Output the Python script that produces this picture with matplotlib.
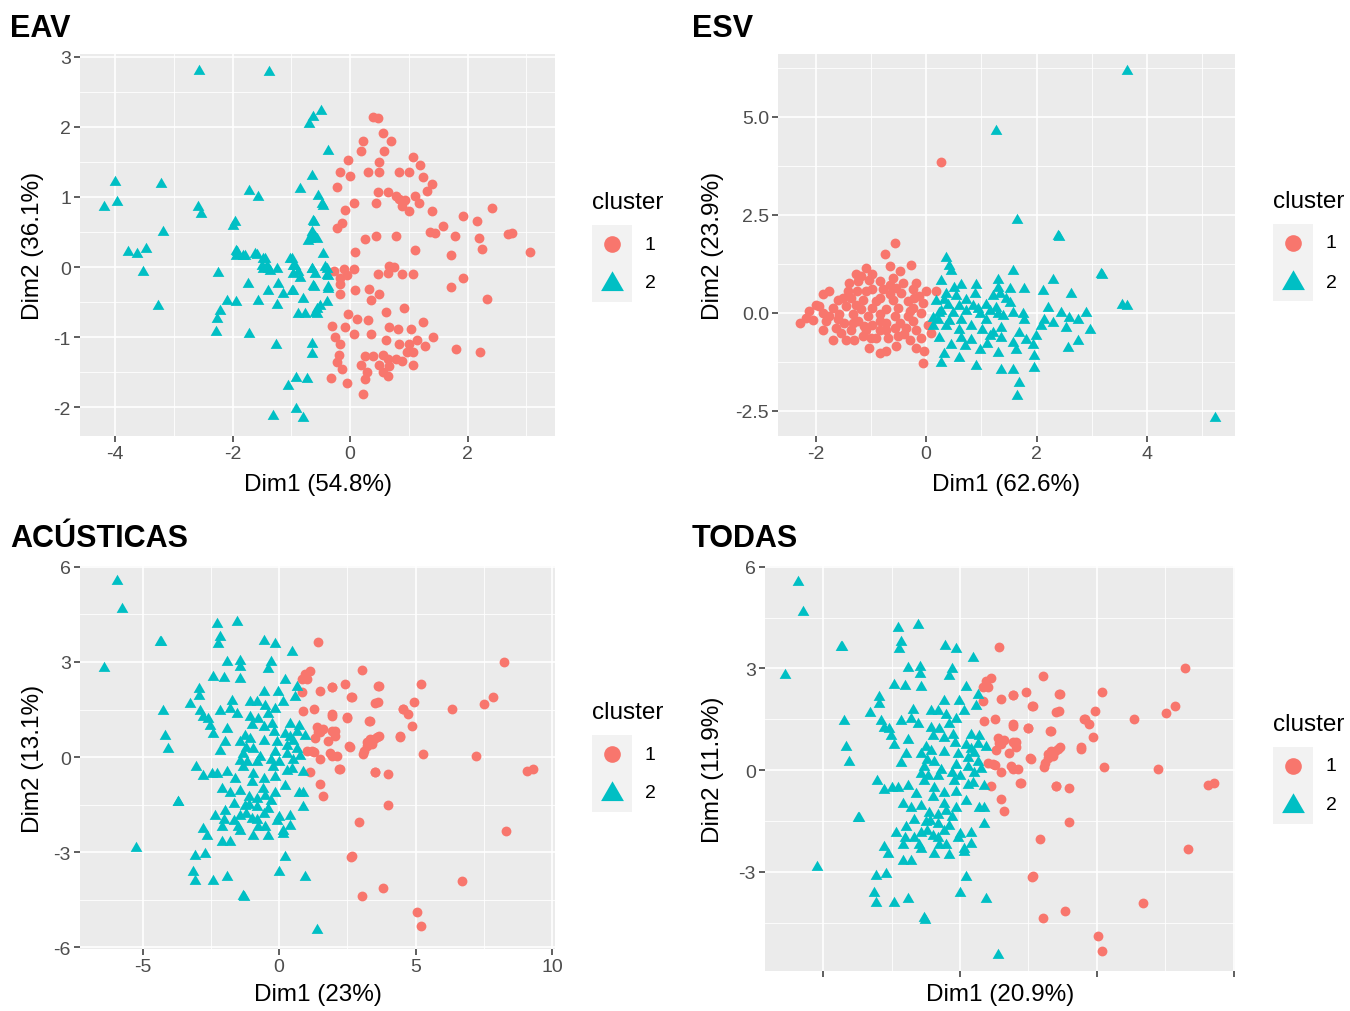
import numpy as np
import matplotlib
matplotlib.use("Agg")
import matplotlib.pyplot as plt
from matplotlib.lines import Line2D
from matplotlib.patches import Rectangle
from matplotlib.ticker import MultipleLocator, FormatStrFormatter, NullFormatter

plt.rcParams["font.family"] = ["Liberation Sans", "DejaVu Sans"]
plt.rcParams["axes.unicode_minus"] = False

RED = "#F8766D"
TEAL = "#00BFC4"
# equilateral triangle like ggplot's shape 17
TRI = [(-1, -0.577), (1, -0.577), (0, 1.155)]

# ---------------- EAV ----------------
eav_cl1 = np.array([
    (0.39, 2.14), (0.47, 2.13), (0.56, 1.91), (0.69, 1.80), (0.22, 1.80), (0.19, 1.65),
    (0.58, 1.65), (-0.03, 1.53), (0.50, 1.50), (1.08, 1.57), (1.19, 1.45), (-0.17, 1.35),
    (0.00, 1.30), (0.31, 1.35), (0.50, 1.35), (0.83, 1.35), (1.00, 1.35), (1.25, 1.28),
    (-0.22, 1.14), (0.47, 1.07), (0.64, 1.07), (0.78, 1.02), (0.83, 0.97), (0.94, 0.95),
    (1.11, 1.02), (1.31, 1.09), (1.39, 1.18), (0.44, 0.92), (0.89, 0.87), (1.00, 0.80),
    (1.17, 0.92), (-0.08, 0.82), (0.06, 0.92), (1.39, 0.80), (-0.22, 0.56), (-0.14, 0.63),
    (1.36, 0.50), (1.44, 0.48), (1.58, 0.59), (1.92, 0.73), (2.17, 0.66), (2.42, 0.85),
    (2.69, 0.47), (2.75, 0.49), (3.06, 0.22), (1.78, 0.44), (2.19, 0.42), (2.25, 0.26),
    (0.25, 0.40), (0.44, 0.44), (0.78, 0.44), (0.08, 0.22), (1.11, 0.24), (1.72, 0.17),
    (0.67, 0.02), (0.75, 0.00), (0.64, -0.08), (0.89, -0.10), (1.08, -0.10), (0.47, -0.10),
    (-0.28, -0.05), (-0.11, -0.03), (0.06, -0.03), (-0.17, -0.15), (-0.06, -0.12),
    (1.92, -0.16), (1.72, -0.28), (-0.17, -0.24), (0.08, -0.33), (0.33, -0.31), (0.50, -0.38),
    (0.36, -0.47), (2.33, -0.45), (-0.17, -0.38), (-0.03, -0.67), (0.61, -0.64), (0.92, -0.59),
    (0.11, -0.74), (0.31, -0.76), (1.25, -0.78), (-0.31, -0.84), (-0.08, -0.86), (0.06, -0.95),
    (0.36, -0.95), (0.67, -0.86), (0.81, -0.88), (1.03, -0.88), (-0.25, -1.00), (-0.17, -1.10),
    (0.61, -1.04), (0.83, -1.10), (1.00, -1.10), (1.14, -1.04), (1.42, -1.00), (1.28, -1.12),
    (1.81, -1.17), (2.22, -1.21), (-0.19, -1.25), (0.25, -1.27), (0.39, -1.27), (0.56, -1.25),
    (0.64, -1.31), (0.78, -1.31), (0.97, -1.21), (1.08, -1.21), (-0.22, -1.36), (0.19, -1.39),
    (0.50, -1.39), (0.67, -1.41), (0.89, -1.34), (1.08, -1.39), (-0.14, -1.46), (0.28, -1.50),
    (0.56, -1.50), (0.64, -1.55), (-0.33, -1.58), (-0.06, -1.65), (0.25, -1.60), (0.22, -1.81),
])
eav_cl2 = np.array([
    (-2.57, 2.80), (-1.38, 2.79), (-0.49, 2.23), (-0.63, 2.14), (-0.70, 2.04), (-0.37, 1.66),
    (-0.65, 1.30), (-0.85, 1.11), (-0.54, 1.01), (-0.48, 0.90), (-4.00, 1.21), (-4.19, 0.86),
    (-3.97, 0.93), (-3.22, 1.19), (-3.18, 0.50), (-3.78, 0.21), (-3.63, 0.19), (-3.47, 0.26),
    (-3.52, -0.07), (-3.27, -0.56), (-2.59, 0.86), (-2.54, 0.76), (-1.73, 1.09), (-1.57, 1.00),
    (-1.96, 0.64), (-1.99, 0.59), (-0.63, 0.66), (-0.65, 0.50), (-0.68, 0.40), (-0.60, 0.43),
    (-1.94, 0.23), (-1.94, 0.16), (-1.79, 0.16), (-2.25, -0.09), (-1.58, 0.17), (-1.48, 0.11),
    (-1.41, 0.01), (-1.36, -0.06), (-1.48, -0.03), (-1.24, -0.03), (-1.02, 0.11), (-0.94, 0.01),
    (-0.97, -0.10), (-0.85, -0.15), (-0.65, -0.03), (-0.60, -0.10), (-0.46, 0.19), (-0.43, 0.00),
    (-0.37, -0.13), (-1.74, -0.24), (-1.40, -0.34), (-1.23, -0.24), (-1.14, -0.39), (-0.97, -0.34),
    (-0.63, -0.27), (-0.37, -0.29), (-2.10, -0.48), (-1.94, -0.50), (-1.56, -0.48), (-1.25, -0.54),
    (-0.80, -0.46), (-0.40, -0.50), (-2.21, -0.63), (-2.27, -0.74), (-0.89, -0.67), (-0.77, -0.67),
    (-0.60, -0.65), (-0.51, -0.55), (-2.28, -0.93), (-1.73, -0.96), (-1.26, -1.11), (-0.65, -1.10),
    (-0.65, -1.24), (-1.05, -1.70), (-0.92, -1.58), (-0.74, -1.60), (-1.32, -2.12), (-0.92, -2.02),
    (-0.81, -2.15), (-0.46, 0.87), (-0.61, 0.64), (-0.65, 0.47), (-0.56, 0.40), (-0.71, 0.37),
    (-0.99, 0.11), (-0.97, 0.01), (-0.88, -0.07), (-0.65, -0.03), (-0.40, -0.03), (-0.40, -0.12),
    (-0.61, -0.29), (-0.37, -0.31), (-0.99, -0.34), (-0.56, -0.60), (-0.56, -0.67), (-1.45, 0.11),
    (-1.50, 0.01), (-1.40, -0.03), (-1.82, 0.16), (-1.92, 0.21), (-1.62, 0.19),
])

# ---------------- ESV ----------------
esv_cl1 = np.array([
    (-0.57, 1.79), (-0.75, 1.49), (-0.66, 1.19), (-0.27, 1.23), (-1.09, 1.15), (-0.48, 1.06),
    (-1.27, 0.98), (-1.24, 0.81), (-1.03, 0.85), (-0.84, 0.81), (-0.66, 0.72), (-0.18, 0.77),
    (0.00, 0.55), (0.18, 0.55), (-1.75, 0.55), (-1.87, 0.47), (-1.42, 0.55), (-0.97, 0.60),
    (-0.45, 0.51), (-0.24, 0.60), (-0.12, 0.43), (-1.60, 0.34), (-1.36, 0.38), (-1.15, 0.34),
    (-0.84, 0.38), (-0.60, 0.34), (-0.33, 0.30), (-1.93, 0.17), (-1.69, 0.13), (-1.45, 0.17),
    (-1.18, 0.09), (-0.97, 0.13), (-0.72, 0.09), (-0.51, 0.13), (-0.24, 0.13), (-2.11, 0.04),
    (-1.87, 0.00), (-1.57, -0.04), (-1.33, -0.04), (-1.06, -0.09), (-0.84, -0.04), (-0.57, -0.09),
    (-0.33, -0.09), (-0.09, 0.00), (-2.29, -0.26), (-2.05, -0.17), (-1.81, -0.21), (-1.48, -0.26),
    (-1.24, -0.21), (-0.97, -0.30), (-0.72, -0.26), (-0.24, -0.21), (0.03, -0.30), (-1.87, -0.43),
    (-1.63, -0.38), (-1.36, -0.43), (-1.09, -0.43), (-0.84, -0.43), (-0.57, -0.38), (-0.36, -0.38),
    (0.09, -0.51), (-1.69, -0.68), (-1.45, -0.68), (-1.30, -0.68), (-0.90, -0.64), (-0.69, -0.64),
    (-0.51, -0.60), (-0.09, -0.64), (-1.03, -0.89), (-0.84, -1.02), (-0.72, -0.98), (-0.54, -0.85),
    (-0.18, -0.89), (-0.03, -0.98), (-0.06, -1.28), (0.27, 3.85), (-1.99, 0.21), (-1.75, -0.09),
    (-1.51, 0.38), (-1.27, 0.21), (-1.09, 0.55), (-0.90, 0.30), (-0.78, 0.60), (-0.66, 0.47),
    (-0.54, 0.64), (-0.42, 0.77), (-0.84, -0.21), (-1.12, -0.34), (-1.33, -0.26), (-0.48, -0.26),
    (-0.18, -0.43), (-0.30, -0.68), (-1.15, -0.60), (-1.54, -0.51), (-2.17, -0.13), (-0.21, 0.38),
    (-0.06, 0.26), (-0.97, 0.98), (-1.18, 0.94), (-1.40, 0.75), (-0.60, 0.90), (-0.30, 0.05),
    (-1.00, -0.65), (-0.40, -0.55), (-1.25, 0.55), (-0.72, -0.45), (-1.60, -0.15),
])
esv_cl2 = np.array([
    (2.38, 1.96), (0.36, 1.40), (0.42, 1.19), (0.45, 1.06), (1.57, 1.06), (3.17, 0.98),
    (2.29, 0.85), (0.27, 0.81), (0.63, 0.72), (0.51, 0.64), (0.91, 0.72), (1.30, 0.64),
    (1.51, 0.60), (1.78, 0.61), (2.11, 0.55), (2.62, 0.47), (0.36, 0.47), (0.88, 0.47),
    (1.21, 0.43), (1.33, 0.47), (1.51, 0.26), (0.18, 0.30), (0.39, 0.21), (0.60, 0.17),
    (0.84, 0.17), (1.09, 0.21), (1.27, 0.13), (2.20, 0.13), (0.27, 0.04), (0.48, 0.00),
    (0.72, 0.04), (0.97, -0.04), (1.30, -0.04), (1.75, -0.04), (2.44, 0.00), (2.90, 0.00),
    (0.21, -0.17), (0.42, -0.21), (0.63, -0.17), (1.09, -0.17), (1.78, -0.17), (2.14, -0.17),
    (2.59, -0.13), (2.75, -0.17), (0.36, -0.34), (0.81, -0.34), (1.36, -0.38), (2.08, -0.34),
    (2.53, -0.38), (2.96, -0.43), (0.24, -0.64), (0.63, -0.64), (0.81, -0.68), (1.15, -0.60),
    (1.36, -0.64), (1.81, -0.68), (1.99, -0.60), (2.75, -0.72), (0.97, -0.94), (1.30, -1.02),
    (1.63, -0.94), (2.56, -0.89), (0.33, -1.06), (0.60, -1.15), (1.96, -1.11), (0.27, -1.28),
    (0.91, -1.36), (1.36, -1.45), (1.57, -1.45), (1.96, -1.40), (1.69, -1.79), (1.64, -2.13),
    (0.45, -0.81), (0.12, -0.34), (3.64, 6.17), (1.27, 4.64), (1.65, 2.37), (2.41, 1.94),
    (3.19, 0.97), (3.55, 0.20), (3.64, 0.18), (5.23, -2.68), (0.33, 0.34), (0.54, 0.43),
    (0.72, 0.34), (0.94, 0.09), (1.15, 0.04), (1.39, -0.09), (1.57, 0.00), (0.60, -0.43),
    (1.02, -0.43), (1.21, -0.51), (1.57, -0.77), (1.69, -0.51), (1.93, -0.81), (2.29, -0.26),
    (0.24, 0.00), (0.12, -0.13), (1.30, 0.85), (1.45, 0.35), (0.70, -0.85), (1.10, -0.80),
])

# ---------------- ACÚSTICAS ----------------
acu_cl1 = np.array([
    (1.44, 3.62), (0.95, 2.62), (1.14, 2.73), (0.83, 2.46), (1.01, 2.46), (0.83, 2.04),
    (1.50, 2.09), (1.93, 2.20), (2.42, 2.31), (3.03, 2.76), (2.66, 1.88), (3.64, 2.23),
    (3.52, 1.71), (0.89, 1.46), (1.26, 1.52), (1.93, 1.36), (2.48, 1.25), (3.33, 1.15),
    (4.55, 1.52), (1.38, 0.94), (1.50, 0.78), (1.93, 0.83), (2.05, 0.67), (2.54, 0.36),
    (3.21, 0.46), (3.09, 0.20), (3.46, 0.57), (3.64, 0.67), (4.43, 0.67), (1.01, 0.20),
    (1.26, 0.15), (1.50, -0.06), (1.87, 0.13), (2.11, 0.04), (1.14, -0.48), (2.23, -0.38),
    (3.52, -0.48), (3.97, -0.54), (1.50, -0.85), (1.62, -1.22), (4.00, -1.52), (2.94, -2.04),
    (2.66, -3.14), (3.82, -4.15), (3.05, -4.38), (8.24, 3.00), (5.20, 2.30), (3.63, 2.24),
    (7.84, 1.89), (7.51, 1.67), (6.34, 1.52), (4.95, 1.74), (4.54, 1.52), (4.73, 1.36),
    (4.87, 0.98), (4.43, 0.63), (5.27, 0.09), (7.22, 0.03), (9.08, -0.44), (9.30, -0.38),
    (3.52, -0.47), (8.32, -2.34), (6.70, -3.92), (5.06, -4.89), (5.20, -5.34), (1.94, 2.21),
    (3.63, 1.74), (2.64, 1.89), (1.94, 1.29), (2.49, 1.23), (3.30, 1.14), (2.05, 0.82),
    (2.60, 0.32), (3.22, 0.35), (3.33, 0.57), (3.59, 0.63), (3.08, 0.09), (2.20, -0.38),
    (1.94, 0.03), (1.43, 0.79), (1.21, 0.19), (2.64, -3.16), (1.60, 0.90), (1.80, 0.50),
    (1.30, 0.60), (3.40, 0.40),
])
acu_cl2 = np.array([
    (-2.28, 4.20), (-1.53, 4.27), (-4.36, 3.62), (-2.16, 3.78), (-2.22, 3.57), (-0.55, 3.67),
    (-0.15, 3.57), (0.46, 3.31), (-1.89, 3.01), (-1.45, 3.04), (-1.45, 2.83), (-0.31, 2.99),
    (-0.39, 2.78), (-2.41, 2.52), (-2.01, 2.48), (-1.43, 2.46), (0.22, 2.44), (0.65, 2.20),
    (-2.95, 2.15), (-2.95, 1.94), (-0.57, 2.04), (-0.05, 2.04), (0.59, 1.88), (-3.28, 1.67),
    (-1.73, 1.78), (-1.06, 1.73), (-0.82, 1.73), (-0.51, 1.62), (-0.15, 1.52), (0.16, 1.73),
    (-4.26, 1.46), (-2.89, 1.46), (-2.16, 1.46), (-1.79, 1.52), (-1.53, 1.36), (-0.39, 1.36),
    (-2.77, 1.25), (-2.59, 1.20), (-1.06, 1.25), (-0.76, 1.20), (-2.53, 0.99), (-2.41, 0.73),
    (-0.27, 1.04), (-0.57, 0.94), (0.40, 1.04), (0.71, 0.99), (-4.18, 0.67), (-4.05, 0.25),
    (-1.25, 0.67), (-1.98, 0.46), (-2.16, 0.20), (-0.57, 0.52), (-1.43, 0.46), (-0.94, 0.25),
    (0.22, 0.73), (0.40, 0.62), (0.65, 0.78), (0.95, 0.67), (-0.15, 0.15), (0.28, 0.36),
    (0.65, 0.25), (0.77, 0.04), (-1.31, 0.09), (-1.18, -0.17), (-0.82, -0.17), (-0.02, -0.17),
    (-1.43, -0.12), (-3.04, -0.33), (-2.77, -0.59), (-2.47, -0.54), (-2.28, -0.54), (-1.92, -0.48),
    (-1.31, -0.33), (-0.94, -0.54), (-0.57, -0.69), (-0.15, -0.64), (0.28, -0.43), (0.46, -0.38),
    (0.89, -0.48), (-2.10, -1.01), (-1.79, -1.12), (-1.43, -1.06), (-1.12, -1.27), (-0.82, -1.33),
    (-0.51, -1.22), (-0.15, -1.12), (0.22, -0.91), (0.71, -1.12), (0.89, -1.12), (-3.72, -1.43),
    (-1.67, -1.48), (-1.25, -1.54), (-0.82, -1.59), (-0.39, -1.64), (0.89, -1.59), (-2.34, -1.85),
    (-1.98, -1.69), (-1.43, -1.85), (-1.00, -1.96), (-0.57, -1.80), (-0.09, -2.01), (0.40, -1.85),
    (-2.77, -2.27), (-2.10, -2.22), (-1.67, -2.01), (-0.76, -2.22), (-0.51, -2.22), (0.16, -2.33),
    (0.40, -2.17), (-2.65, -2.48), (-2.10, -2.69), (-1.79, -2.69), (-1.43, -2.33), (-0.94, -2.48),
    (0.16, -2.43), (-3.08, -3.12), (-2.71, -3.06), (0.20, -3.17), (-3.14, -3.64), (-3.08, -3.91),
    (-2.41, -3.91), (-1.92, -3.80), (-0.02, -3.64), (0.95, -3.80), (-1.31, -4.38), (-0.21, -0.33),
    (-0.09, 0.46), (-1.06, 0.57), (-5.93, 5.56), (-5.75, 4.67), (-6.41, 2.81), (-4.32, 3.63),
    (-5.24, -2.87), (-3.70, -1.42), (1.39, -5.46), (-1.28, -4.42), (-1.20, 0.30), (-0.70, 0.00),
    (-0.30, -0.10), (0.50, 0.50), (0.30, 0.10), (-1.00, -0.80), (-0.60, -1.00), (-1.60, -0.70),
    (-1.20, -1.80), (-0.80, -2.00), (-1.50, -2.20), (-0.30, -1.40), (0.00, -1.90), (-2.00, -2.00),
    (-1.90, 0.90), (-1.00, 1.00), (-0.20, 0.80), (0.50, -0.10), (-0.40, -2.50), (-1.10, -1.50),
])

# ---------------- TODAS ----------------
# same point cloud as the acoustic set
tod_cl1 = acu_cl1.copy()
tod_cl2 = acu_cl2.copy()

W, H = 1350, 1012
fig = plt.figure(figsize=(W / 100, H / 100), dpi=100)


def fx(x):
    return x / W


def fy(y):
    return 1 - y / H


def panel(box, cl1, cl2, title, xlab, ylab, xlim, ylim, xmaj, ymaj, yfmt="%g",
          xticklabels=True, title_xy=(10, 37), xlab_y=485, ylab_x=33, leg_xy=(592, 203)):
    l, t, r, b = box
    ax = fig.add_axes([fx(l), fy(b), (r - l) / W, (b - t) / H])
    ax.set_facecolor("#EBEBEB")
    ax.scatter(cl1[:, 0], cl1[:, 1], s=50, marker="o", color=RED, linewidths=0, zorder=3)
    ax.scatter(cl2[:, 0], cl2[:, 1], s=95, marker=TRI, color=TEAL, linewidths=0, zorder=3)
    ax.set_xlim(*xlim)
    ax.set_ylim(*ylim)
    ax.xaxis.set_major_locator(MultipleLocator(xmaj))
    ax.xaxis.set_minor_locator(MultipleLocator(xmaj / 2))
    ax.yaxis.set_major_locator(MultipleLocator(ymaj))
    ax.yaxis.set_minor_locator(MultipleLocator(ymaj / 2))
    ax.yaxis.set_major_formatter(FormatStrFormatter(yfmt))
    if xticklabels:
        ax.xaxis.set_major_formatter(FormatStrFormatter("%g"))
    else:
        ax.xaxis.set_major_formatter(NullFormatter())
    ax.grid(which="major", color="white", linewidth=1.2, zorder=1)
    ax.grid(which="minor", color="white", linewidth=0.6, zorder=1)
    ax.set_axisbelow(True)
    for s in ax.spines.values():
        s.set_visible(False)
    ax.tick_params(which="major", length=4.5, width=1.1, color="#333333",
                   labelsize=14, labelcolor="#4D4D4D", pad=2)
    ax.tick_params(which="minor", length=0)

    fig.text(fx(title_xy[0]), fy(title_xy[1]), title, fontsize=22, fontweight="bold",
             ha="left", va="baseline")
    fig.text(fx((l + r) / 2), fy(xlab_y), xlab, fontsize=17.5, ha="center", va="center")
    fig.text(fx(ylab_x), fy((t + b) / 2), ylab, fontsize=17.5, ha="center", va="center",
             rotation=90)

    # legend: title, grey key boxes, markers and labels
    lx, ly = leg_xy
    fig.text(fx(lx), fy(ly), "cluster", fontsize=17.5, ha="left", va="center")
    fig.add_artist(Rectangle((fx(lx), fy(ly + 100)), 40 / W, 77 / H,
                             transform=fig.transFigure, facecolor="#F2F2F2",
                             edgecolor="none"))
    fig.add_artist(Line2D([fx(lx + 20)], [fy(ly + 42)], transform=fig.transFigure,
                          marker="o", markersize=12, color=RED, markeredgewidth=0,
                          linestyle="none"))
    fig.add_artist(Line2D([fx(lx + 20)], [fy(ly + 82)], transform=fig.transFigure,
                          marker=TRI, markersize=19, color=TEAL, markeredgewidth=0,
                          linestyle="none"))
    fig.text(fx(lx + 58), fy(ly + 42), "1", fontsize=14, ha="center", va="center")
    fig.text(fx(lx + 58), fy(ly + 81), "2", fontsize=14, ha="center", va="center")
    return ax


panel((80, 55, 555, 437), eav_cl1, eav_cl2, "EAV", "Dim1 (54.8%)", "Dim2 (36.1%)",
      (-4.6, 3.49), (-2.41, 3.04), 2, 1,
      title_xy=(10, 37), xlab_y=485, ylab_x=33, leg_xy=(592, 203))

panel((778, 55, 1235, 437), esv_cl1, esv_cl2, "ESV", "Dim1 (62.6%)", "Dim2 (23.9%)",
      (-2.68, 5.59), (-3.14, 6.6), 2, 2.5, yfmt="%.1f",
      title_xy=(692, 37), xlab_y=485, ylab_x=713, leg_xy=(1273, 202))

panel((80, 567, 555, 950), acu_cl1, acu_cl2, "ACÚSTICAS", "Dim1 (23%)", "Dim2 (13.1%)",
      (-7.29, 10.1), (-6.06, 6.03), 5, 3,
      title_xy=(10, 547), xlab_y=995, ylab_x=33, leg_xy=(592, 713))

panel((765, 567, 1235, 972), tod_cl1, tod_cl2, "TODAS", "Dim1 (20.9%)", "Dim2 (11.9%)",
      (-7.13, 10.05), (-5.93, 6.02), 5, 3, xticklabels=False,
      title_xy=(692, 547), xlab_y=995, ylab_x=713, leg_xy=(1273, 725))

fig.savefig("out.png", dpi=100, facecolor="white")
